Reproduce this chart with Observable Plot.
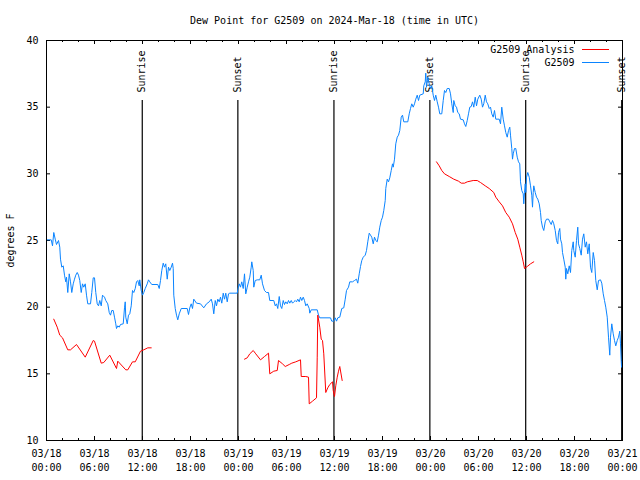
<!DOCTYPE html>
<html>
<head>
<meta charset="utf-8">
<script src="https://cdn.jsdelivr.net/npm/d3@7"></script>
<script src="https://cdn.jsdelivr.net/npm/@observablehq/plot@0.6"></script>
<style>
  html, body { margin: 0; padding: 0; background: white; }
</style>
</head>
<body>
<div id="chart"></div>
<script>
// ---- Data (hours since 2024-03-18 00:00 UTC, degrees F) ----
const titleText = "Dew Point for G2509 on 2024-Mar-18 (time in UTC)";
const yLabel = "degrees F";
const seriesNames = ["G2509 Analysis", "G2509"];
const yTicks = [10, 15, 20, 25, 30, 35, 40];

const obsHours = [0,0.59,0.75,0.91,1.09,1.25,1.5,1.66,1.75,1.91,2.09,2.25,2.41,2.5,2.66,2.84,3.0,3.16,3.34,3.5,3.66,3.84,4.0,4.16,4.34,4.5,4.66,4.84,5.0,5.16,5.5,5.66,5.84,6.0,6.16,6.34,6.5,6.66,6.84,7.0,7.25,7.41,7.66,7.84,8.0,8.16,8.34,8.5,8.66,8.75,8.91,9.09,9.25,9.59,9.75,9.84,9.91,10.09,10.25,10.41,10.59,10.75,10.91,11.09,11.25,11.41,11.59,11.66,11.84,12.0,12.16,12.34,12.59,12.75,12.91,13.16,13.91,14.09,14.25,14.41,14.59,14.75,14.91,15.09,15.25,15.41,15.59,15.75,15.84,15.91,16.09,16.25,16.41,16.59,16.84,17.59,17.75,17.91,18.09,18.25,18.41,18.75,19.25,19.66,20.0,20.34,20.59,20.75,20.91,21.09,21.25,21.41,21.59,21.75,21.91,22.09,22.25,22.41,22.59,22.75,22.91,23.84,23.91,24.09,24.25,24.41,24.59,24.75,24.91,25.09,25.25,25.41,25.59,25.66,25.84,25.91,26.09,26.34,26.66,26.84,27.0,27.25,27.5,27.75,27.91,28.41,28.59,28.75,28.91,29.09,29.25,29.41,29.59,29.75,29.91,30.09,30.25,30.41,30.59,30.75,30.91,31.09,31.25,31.41,31.59,31.75,31.91,32.09,32.25,32.41,32.59,32.84,32.91,33.09,33.84,34.0,34.16,35.5,35.66,35.91,36.09,36.25,36.41,36.66,36.91,37.16,37.34,37.5,37.75,37.91,38.25,38.5,38.75,38.91,39.09,39.25,39.41,39.59,39.84,40.0,40.16,40.34,40.5,40.66,40.84,41.0,41.16,41.34,41.5,41.66,41.84,42.0,42.16,42.34,42.41,42.59,42.75,42.91,43.09,43.25,43.34,43.5,43.66,43.84,44.0,44.16,44.34,44.5,44.66,45.16,45.34,45.5,45.66,45.84,46.0,46.16,46.34,46.5,46.66,47.09,47.16,47.34,47.41,47.5,47.66,47.84,48.0,48.16,48.34,48.5,48.66,48.84,49.0,49.16,49.41,49.59,49.75,49.91,50.09,50.34,50.5,50.66,50.84,50.91,51.09,51.25,51.41,51.59,51.75,52.09,52.25,52.41,52.59,52.75,52.91,53.09,53.25,53.41,53.59,53.75,53.91,54.16,54.34,54.5,54.66,54.84,55.0,55.16,55.34,55.5,55.66,55.84,56.0,56.16,56.59,56.75,56.91,57.09,57.25,57.41,57.59,57.75,57.91,58.0,58.16,58.25,58.34,58.5,58.66,58.84,59.0,59.16,59.25,59.41,59.59,59.66,59.75,59.84,59.91,60.0,60.16,60.34,60.5,60.66,60.75,60.84,60.91,61.09,61.25,61.41,61.59,61.75,61.84,62.0,62.16,62.34,62.5,62.75,62.91,63.09,63.25,63.41,63.59,63.75,63.91,64.0,64.16,64.25,64.41,64.5,64.66,64.84,64.91,65.0,65.16,65.34,65.5,65.66,65.84,65.91,66.09,66.25,66.41,66.5,66.66,66.84,67.0,67.16,67.34,67.5,67.66,67.84,68.0,68.16,68.34,68.5,68.66,68.84,69.0,69.25,69.41,69.59,69.75,69.91,70.09,70.25,70.41,70.5,70.66,70.84,71.0,71.16,71.34,71.5,71.66,71.75,71.84,71.88];
const obsValues = [25.05,25.05,24.6,25.6,25.1,24.7,25.0,24.5,23.6,23.0,23.1,22.4,21.9,22.25,21.1,22.5,21.9,21.1,21.75,22.1,22.4,22.6,22.4,22.0,21.1,21.75,21.5,21.75,20.9,20.25,20.25,21.1,22.2,22.2,21.1,20.25,20.1,20.5,20.1,20.9,20.75,20.5,20.25,19.6,19.4,19.75,19.75,19.25,18.75,18.4,18.6,18.5,18.7,18.75,19.95,20.4,19.25,18.75,19.4,19.5,20.1,21.25,21.1,21.4,21.9,22.0,21.6,22.05,21.25,20.9,21.1,21.4,21.75,22.05,21.9,21.7,21.7,21.4,22.0,22.75,23.3,23.0,23.25,22.1,23.0,22.75,23.0,23.3,22.9,20.9,19.9,19.4,19.05,19.5,19.9,19.9,19.45,19.95,20.25,19.9,20.6,20.3,20.25,19.95,20.25,20.4,20.6,20.25,19.5,20.5,20.1,20.6,20.4,20.75,20.3,21.05,20.6,21.05,20.4,21.0,21.05,21.05,21.3,21.75,21.5,21.9,21.4,22.5,21.0,21.5,21.9,22.25,23.0,23.4,22.75,21.5,22.0,22.05,22.05,22.4,21.75,21.25,21.1,21.1,20.5,20.5,20.1,20.25,19.9,20.8,20.1,19.9,20.5,20.2,20.4,20.25,20.5,20.3,20.5,20.3,20.4,20.5,20.4,20.6,20.4,20.75,20.5,20.75,20.5,20.1,20.25,19.9,19.55,19.8,19.8,19.4,19.2,19.2,18.95,18.95,19.2,18.95,19.2,19.25,19.9,19.95,20.6,21.25,21.5,21.9,21.9,22.0,22.1,21.8,22.5,23.05,23.5,23.75,23.9,24.25,24.9,25.55,25.4,25.25,24.75,25.25,25.0,24.9,25.4,26.0,26.5,26.75,27.25,28.0,28.9,29.6,29.4,29.7,30.25,30.75,30.5,31.1,32.25,32.75,32.9,33.25,34.25,34.4,33.9,33.9,34.5,34.9,35.25,35.0,35.25,35.6,35.9,35.5,35.9,36.0,36.6,36.9,37.55,36.5,37.25,36.75,36.4,36.6,35.9,35.5,35.9,35.4,35.0,34.5,34.5,35.5,36.25,36.1,36.4,36.4,36.0,35.25,34.6,35.5,35.1,35.0,34.6,34.5,34.1,34.05,33.75,33.55,34.0,34.5,35.0,35.05,35.4,35.0,35.75,35.1,35.6,35.9,35.6,35.0,35.25,35.9,35.4,35.25,34.9,35.0,34.5,34.25,34.75,34.1,34.1,33.75,35.0,34.1,33.6,33.1,32.75,33.25,33.5,32.9,31.9,31.1,31.5,31.9,31.9,31.25,30.9,30.75,29.4,28.75,28.5,27.75,28.6,29.25,28.6,29.75,30.1,29.75,29.1,28.4,27.5,28.6,29.1,28.6,28.25,28.1,27.75,27.1,26.5,26.0,25.75,26.4,26.6,26.6,26.4,26.2,26.5,26.25,25.75,25.0,24.75,25.6,25.9,25.1,24.75,24.1,23.6,23.0,22.1,22.9,22.5,23.1,22.6,24.25,24.9,24.25,23.75,25.0,26.0,24.75,24.4,23.9,25.1,25.5,24.5,24.9,24.0,24.75,23.0,22.6,24.1,23.5,22.0,21.3,22.0,22.05,21.8,21.0,20.5,20.0,19.25,17.75,16.4,17.75,18.75,18.0,17.5,17.1,17.5,17.75,18.2,17.25,16.0,15.5];

// Analysis series; null marks a gap between runs
const anaHours = [0.91,1.34,1.66,2.0,2.66,3.0,3.75,4.84,5.84,6.0,6.84,7.16,7.91,8.75,8.91,9.91,10.16,10.75,11.09,11.75,12.16,12.66,13.09,
  13.2,
  24.75,25.09,25.41,25.84,26.16,26.75,27.25,27.75,27.91,28.41,28.84,29.0,29.5,29.84,30.34,30.66,31.16,31.75,31.84,32.41,32.75,32.84,33.25,33.75,33.84,33.91,34.16,34.34,34.5,34.66,34.91,35.16,35.41,35.75,35.84,36.0,36.16,36.34,36.5,36.66,36.96,
  37.1,
  48.75,49.09,49.41,49.75,50.34,50.91,51.5,51.84,52.25,52.59,53.34,53.84,54.25,54.84,55.34,55.91,56.16,56.59,57.0,57.41,57.84,58.25,58.59,58.91,59.16,59.41,59.59,59.75,60.09,60.5,60.91];
const anaValues = [19.1,18.5,17.9,17.7,16.8,16.8,17.2,16.25,17.5,17.45,15.8,15.85,16.4,15.4,15.95,15.3,15.3,15.9,15.9,16.7,16.8,16.95,16.95,
  null,
  16.1,16.2,16.5,16.75,16.5,16.05,16.3,16.55,15.0,15.2,15.25,16.0,15.75,15.55,15.7,15.8,15.9,16.05,14.8,14.8,14.75,12.75,12.95,13.2,16.25,19.4,18.5,17.6,17.5,16.5,13.6,13.95,14.2,14.4,13.75,13.3,14.1,14.75,15.2,15.55,14.5,
  null,
  30.9,30.6,30.25,30.0,29.8,29.6,29.45,29.3,29.3,29.4,29.5,29.5,29.35,29.1,28.9,28.6,28.25,27.9,27.6,27.1,26.75,26.25,25.6,25.1,24.5,23.9,23.4,22.9,23.05,23.25,23.4];

// Sunrise / sunset (hours since start)
const sunHours = [11.97, 23.92, 35.93, 47.92, 59.9, 71.9];
const sunLabels = ["Sunrise", "Sunset", "Sunrise", "Sunset", "Sunrise", "Sunset"];

// ---- Build ----
const start = new Date(Date.UTC(2024, 2, 18));
const end = new Date(Date.UTC(2024, 2, 21));
const toDate = h => new Date(+start + h * 3600e3);

const obs = obsHours.map((h, i) => ({t: toDate(h), v: obsValues[i]}));
const ana = anaHours.map((h, i) => ({t: toDate(h), v: anaValues[i]}));
const sun = sunHours.map((h, i) => ({t: toDate(h), label: sunLabels[i]}));

const majorX = d3.utcHour.every(6).range(start, new Date(+end + 1));
const minorX = d3.utcHour.every(2).range(start, new Date(+end + 1));

const RED = "#ff0000";
const BLUE = "#0a84ff";

const chart = Plot.plot({
  width: 640,
  height: 480,
  marginLeft: 46,
  marginRight: 18,
  marginTop: 40,
  marginBottom: 40,
  style: {fontFamily: "'DejaVu Sans Mono', monospace", fontSize: "10px", background: "white", color: "black", overflow: "visible"},
  x: {type: "utc", domain: [start, end]},
  y: {domain: [10, 40]},
  marks: [
    // ticks (inward)
    Plot.ruleX(minorX, {x: d => d, insetTop: 398, stroke: "black"}),
    Plot.ruleX(minorX, {x: d => d, insetBottom: 398, stroke: "black"}),
    Plot.ruleX(majorX, {x: d => d, insetTop: 396, stroke: "black"}),
    Plot.ruleX(majorX, {x: d => d, insetBottom: 396, stroke: "black"}),
    Plot.ruleY(yTicks, {y: d => d, insetRight: 572, stroke: "black"}),
    Plot.ruleY(yTicks, {y: d => d, insetLeft: 572, stroke: "black"}),
    // sunrise / sunset
    Plot.ruleX(sun, {x: "t", insetTop: 60, stroke: "black", strokeWidth: 1.2}),
    Plot.text(sun, {x: "t", text: "label", frameAnchor: "top", dy: 52, rotate: -90, textAnchor: "start", lineAnchor: "middle", fill: "black"}),
    // series
    Plot.line(obs, {x: "t", y: "v", stroke: BLUE, strokeWidth: 1}),
    Plot.line(ana, {x: "t", y: "v", stroke: RED, strokeWidth: 1}),
    // axes
    Plot.axisX(majorX, {tickSize: 0, tickPadding: 7, tickFormat: d3.utcFormat("%m/%d\n%H:%M"), lineHeight: 1.4, label: null, fill: "black"}),
    Plot.axisY(yTicks, {tickSize: 0, tickPadding: 8, label: null, fill: "black"}),
    Plot.frame({stroke: "black"}),
    // title and y label
    Plot.text([titleText], {text: d => d, frameAnchor: "top", dy: -20, lineAnchor: "middle", fill: "black"}),
    Plot.text([yLabel], {text: d => d, frameAnchor: "left", dx: -36, rotate: -90, textAnchor: "middle", lineAnchor: "middle", fill: "black"}),
    // legend
    Plot.text([seriesNames[0]], {text: d => d, frameAnchor: "top-right", textAnchor: "end", lineAnchor: "middle", dx: -48, dy: 9, fill: "black"}),
    Plot.text([seriesNames[1]], {text: d => d, frameAnchor: "top-right", textAnchor: "end", lineAnchor: "middle", dx: -48, dy: 22, fill: "black"}),
    Plot.ruleY([40], {y: d => d, insetLeft: 536, insetRight: 13, dy: 9, stroke: RED}),
    Plot.ruleY([40], {y: d => d, insetLeft: 536, insetRight: 13, dy: 22, stroke: BLUE})
  ]
});
document.getElementById("chart").appendChild(chart);
</script>
</body>
</html>
